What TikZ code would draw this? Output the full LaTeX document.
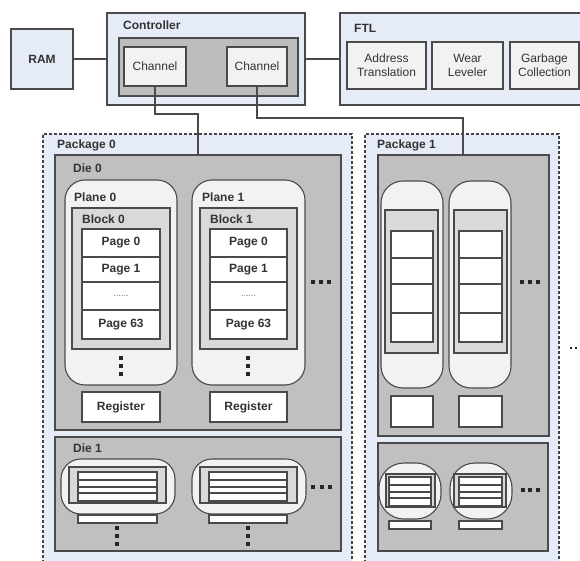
\documentclass[tikz,border=0pt]{standalone}
\usepackage{fontspec}
\setmainfont{Liberation Sans}
\definecolor{lb}{HTML}{E6ECF7}
\definecolor{dg}{HTML}{C0C0C0}
\definecolor{cg}{HTML}{BDBDBD}
\definecolor{lg}{HTML}{F2F2F2}
\definecolor{bg}{HTML}{D9D9D9}
\definecolor{ln}{HTML}{4A4A4A}
\definecolor{tx}{HTML}{333333}
\newcommand\bx[7]{\node[#1,minimum width={(#5-#3)*1pt},minimum height={(#6-#4)*1pt}] (#2) at (#3,#4) {#7};}
\begin{document}
\begin{tikzpicture}[x=1pt,y=-1pt,
  base/.style={draw=ln,line width=1.1pt,inner sep=0pt,outer sep=0pt,anchor=north west,text=tx},
  bluebox/.style={base,fill=lb,font=\bfseries\fontsize{12}{14}\selectfont},
  pkgbox/.style={base,fill=lb,draw=ln!90!black,dash pattern=on 3pt off 2pt,line width=1.3pt},
  diebox/.style={base,fill=dg},
  ctrlin/.style={base,fill=cg},
  litebox/.style={base,fill=lg,font=\fontsize{12}{14}\selectfont,align=center},
  planebox/.style={base,fill=lg,rounded corners=#1},
  planebox/.default=20pt,
  blockbox/.style={base,fill=bg},
  pagebox/.style={base,fill=white,font=\bfseries\fontsize{12}{14}\selectfont},
  ttl/.style={anchor=west,inner sep=0pt,font=\bfseries\fontsize{12}{14}\selectfont,text=tx},
  conn/.style={draw=ln,line width=1.1pt},
  dotc/.style={fill=black!85}]
\useasboundingbox (0,0) rectangle (580,561);
\clip (0,0) rectangle (580,561);
% top row
\bx{bluebox}{ram}{11}{29}{73}{89}{RAM}
\bx{bluebox}{ctrl}{107}{13}{305}{105}{}
\node[ttl] (ctrlt) at (123,25) {Controller};
\bx{ctrlin}{ctrlg}{119}{38}{298}{96}{}
\bx{litebox}{ch1}{124}{47}{186}{86}{Channel}
\bx{litebox}{ch2}{227}{47}{287}{86}{Channel}
\bx{bluebox}{ftl}{340}{13}{600}{105}{}
\node[ttl] (ftlt) at (354,28) {FTL};
\bx{litebox}{at}{347}{42}{426}{89}{Address\\Translation}
\bx{litebox}{wl}{432}{42}{503}{89}{Wear\\Leveler}
\bx{litebox}{gc}{510}{42}{579}{89}{Garbage\\Collection}
% packages
\bx{pkgbox}{pkg0}{43}{134}{352}{600}{}
\node[ttl] (pkg0t) at (57,145) {Package 0};
\bx{pkgbox}{pkg1}{365}{134}{559}{600}{}
\node[ttl] (pkg1t) at (377,145) {Package 1};
% ---------- Package 0, Die 0
\bx{diebox}{d00}{55}{155}{341}{430}{}
\node[ttl] (d00t) at (73,168) {Die 0};
\bx{planebox}{pl0}{65}{180}{177}{385}{}
\node[ttl] (pl0t) at (74,197) {Plane 0};
\bx{blockbox}{bk0}{72}{208}{170}{349}{}
\node[ttl] (bk0t) at (82,219) {Block 0};
\foreach \a/\b/\t [count=\i] in {229/257/Page 0,257/282/Page 1,282/310/{\mdseries\fontsize{9}{9}\selectfont\color{black!60}......},310/339/Page 63}
  {\bx{pagebox}{pga\i}{82}{\a}{160}{\b}{\t}}
\bx{pagebox}{rg0}{82}{392}{160}{422}{Register}
\bx{planebox}{pl1}{192}{180}{305}{385}{}
\node[ttl] (pl1t) at (202,197) {Plane 1};
\bx{blockbox}{bk1}{200}{208}{297}{349}{}
\node[ttl] (bk1t) at (210,219) {Block 1};
\foreach \a/\b/\t [count=\i] in {229/257/Page 0,257/282/Page 1,282/310/{\mdseries\fontsize{9}{9}\selectfont\color{black!60}......},310/339/Page 63}
  {\bx{pagebox}{pgb\i}{210}{\a}{287}{\b}{\t}}
\bx{pagebox}{rg1}{210}{392}{287}{422}{Register}
\foreach \x in {121,248} \foreach \y in {358,366,374} \fill[dotc] (\x-1.6,\y-1.6) rectangle (\x+1.6,\y+1.6);
\foreach \x in {313,321,329} \fill[dotc] (\x-1.6,282-1.6) rectangle (\x+1.6,282+1.6);
% ---------- Package 0, Die 1
\bx{diebox}{d01}{55}{437}{341}{551}{}
\node[ttl] (d01t) at (73,448) {Die 1};
\bx{planebox=20pt}{pl2}{61}{459}{175}{514}{}
\bx{planebox=20pt}{pl3}{192}{459}{306}{514}{}
\bx{blockbox}{bk2}{69}{467}{166}{503}{}
\bx{blockbox}{bk3}{200}{467}{297}{503}{}
\foreach \a/\b [count=\i] in {472/480,480/487,487/493,493/501}
  {\bx{pagebox}{pgc\i}{78}{\a}{157}{\b}{}
   \bx{pagebox}{pgd\i}{209}{\a}{287}{\b}{}}
\bx{pagebox}{rg2}{78}{515}{157}{523}{}
\bx{pagebox}{rg3}{209}{515}{287}{523}{}
\foreach \x in {117,248} \foreach \y in {528,536,544} \fill[dotc] (\x-1.6,\y-1.6) rectangle (\x+1.6,\y+1.6);
\foreach \x in {313,322,330} \fill[dotc] (\x-1.6,487-1.6) rectangle (\x+1.6,487+1.6);
% ---------- Package 1, Die 0
\bx{diebox}{d10}{378}{155}{549}{436}{}
\bx{planebox=22pt}{pl4}{381}{181}{443}{388}{}
\bx{planebox=22pt}{pl5}{449}{181}{511}{388}{}
\bx{blockbox}{bk4}{385}{210}{438}{353}{}
\bx{blockbox}{bk5}{454}{210}{507}{353}{}
\foreach \a/\b [count=\i] in {231/258,258/284,284/313,313/342}
  {\bx{pagebox}{pge\i}{391}{\a}{433}{\b}{}
   \bx{pagebox}{pgf\i}{459}{\a}{502}{\b}{}}
\bx{pagebox}{rg4}{391}{396}{433}{427}{}
\bx{pagebox}{rg5}{459}{396}{502}{427}{}
\foreach \x in {522,530,538} \fill[dotc] (\x-1.6,282-1.6) rectangle (\x+1.6,282+1.6);
% ---------- Package 1, Die 1
\bx{diebox}{d11}{378}{443}{548}{551}{}
\bx{planebox=25pt}{pl6}{379}{463}{441}{519}{}
\bx{planebox=25pt}{pl7}{450}{463}{512}{519}{}
\bx{blockbox}{bk6}{386}{474}{435}{507}{}
\bx{blockbox}{bk7}{454}{474}{506}{507}{}
\foreach \a/\b [count=\i] in {477/485,485/492,492/498,498/506}
  {\bx{pagebox}{pgg\i}{389}{\a}{431}{\b}{}
   \bx{pagebox}{pgh\i}{459}{\a}{502}{\b}{}}
\bx{pagebox}{rg6}{389}{521}{431}{529}{}
\bx{pagebox}{rg7}{459}{521}{502}{529}{}
\foreach \x in {523,530,538} \fill[dotc] (\x-1.6,490-1.6) rectangle (\x+1.6,490+1.6);
% far right dots
\foreach \x in {571,576,581} \fill[dotc] (\x-1.4,348-1.4) rectangle (\x+1.4,348+1.4);
% connectors
\draw[conn] (ram) -- (ctrl);
\draw[conn] (ctrl) -- (ftl);
\draw[conn] (ch1.south) -- ++(0,28) -| ([xshift=143pt]d00.north west);
\draw[conn] (ch2.south) -- ++(0,32) -| ([xshift=85pt]d10.north west);
\end{tikzpicture}
\end{document}
